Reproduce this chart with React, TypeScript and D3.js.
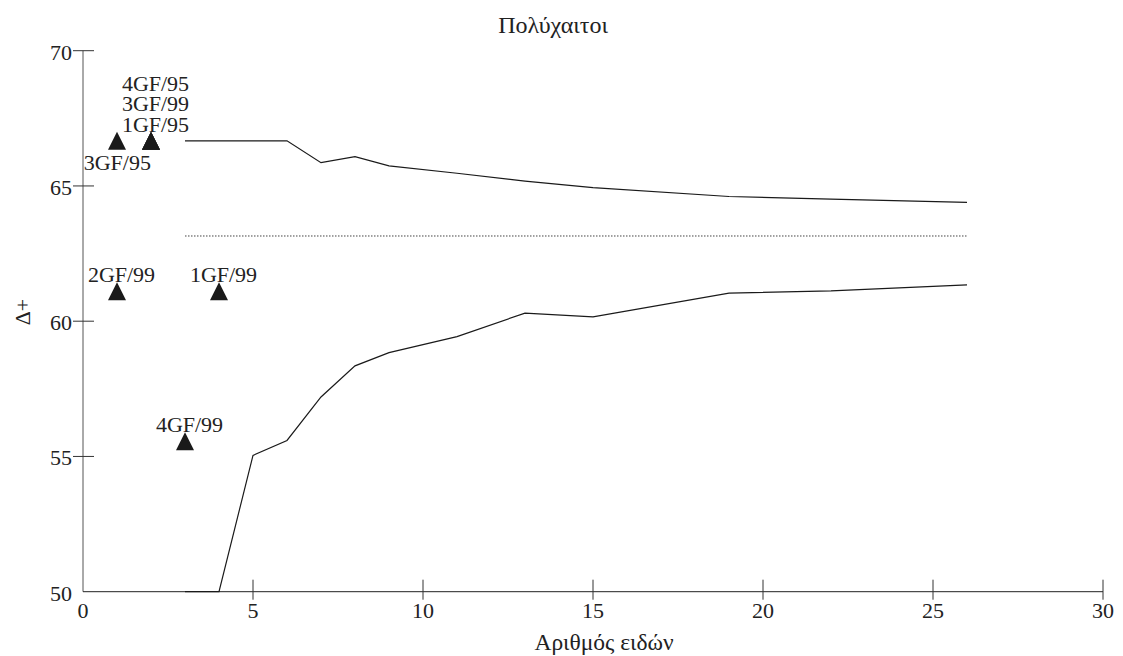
import React from "react";
import * as d3 from "d3";

// Δ+ simulation envelope (number of species vs. average taxonomic distinctness)
const speciesCounts = [3, 4, 5, 6, 7, 8, 9, 11, 13, 15, 19, 22, 26];
const upperLimit = [66.67, 66.67, 66.67, 66.67, 65.86, 66.08, 65.74, 65.47, 65.18, 64.94, 64.61, 64.51, 64.39];
const lowerLimit = [50.0, 50.0, 55.04, 55.59, 57.2, 58.35, 58.84, 59.43, 60.3, 60.16, 61.04, 61.12, 61.34];
const meanDelta = 63.15;

// Observed samples
const sampleNames = ["3GF/95", "1GF/95", "3GF/99", "4GF/95", "2GF/99", "1GF/99", "4GF/99"];
const sampleSpecies = [1, 2, 2, 2, 1, 4, 3];
const sampleDelta = [66.67, 66.67, 66.67, 66.67, 61.11, 61.11, 55.56];
const labelSide = ["below", "above", "above", "above", "above", "above", "above"];

const xTicks = [0, 5, 10, 15, 20, 25, 30];
const yTicks = [50, 55, 60, 65, 70];

const title = "Πολύχαιτοι";
const xTitle = "Αριθμός ειδών";
const yTitle = "Δ+";

const W = 1123;
const H = 656;
const FONT = "'Liberation Serif', 'Times New Roman', serif";

export default function App() {
  const x = d3.scaleLinear().domain([0, 30]).range([83, 1103]);
  const y = d3.scaleLinear().domain([50, 70]).range([591.7, 50.7]);

  const envelope = speciesCounts.map((s, i) => ({ s, hi: upperLimit[i], lo: lowerLimit[i] }));
  const upperPath = d3.line<any>().x((d) => x(d.s)).y((d) => y(d.hi))(envelope) || "";
  const lowerPath = d3.line<any>().x((d) => x(d.s)).y((d) => y(d.lo))(envelope) || "";
  const meanPath =
    d3.line<number>().x((s) => x(s)).y(() => y(meanDelta))([
      speciesCounts[0],
      speciesCounts[speciesCounts.length - 1],
    ]) || "";

  const tri = (cx: number, cy: number) => {
    const p = d3.path();
    p.moveTo(cx, cy - 9);
    p.lineTo(cx + 9, cy + 9);
    p.lineTo(cx - 9, cy + 9);
    p.closePath();
    return p.toString();
  };

  // stack labels that share the same point
  const stackCount: Record<string, number> = {};
  const labels = sampleNames.map((name, i) => {
    const px = x(sampleSpecies[i]);
    const py = y(sampleDelta[i]);
    if (labelSide[i] === "below") {
      return { name, lx: px + 0.3, ly: py + 29 };
    }
    const key = `${sampleSpecies[i]}_${sampleDelta[i]}`;
    const k = stackCount[key] || 0;
    stackCount[key] = k + 1;
    return { name, lx: px + 4.5, ly: py - 9.2 - k * 20.4 };
  });

  const axisY = y(50);
  const axisX = x(0);

  return (
    <svg
      width={W}
      height={H}
      style={{ position: "absolute", left: 0, top: 0, background: "#fff" }}
      fontFamily={FONT}
    >
      <rect x={0} y={0} width={W} height={H} fill="#fff" />

      {/* title */}
      <text x={553} y={33} fontSize={24} textAnchor="middle" fill="#222">
        {title}
      </text>

      {/* y axis */}
      <line x1={axisX} x2={axisX} y1={y(70)} y2={axisY} stroke="#555" strokeWidth={1} />
      {yTicks.map((t) => (
        <g key={"y" + t}>
          {t !== 50 && (
            <line x1={axisX - 10} x2={axisX + 11} y1={y(t)} y2={y(t)} stroke="#333" strokeWidth={1} />
          )}
          <text x={72} y={y(t) + 9} fontSize={22} textAnchor="end" fill="#222">
            {t}
          </text>
        </g>
      ))}

      {/* x axis */}
      <line x1={axisX} x2={x(30)} y1={axisY} y2={axisY} stroke="#222" strokeWidth={1} />
      {xTicks.map((t) => (
        <g key={"x" + t}>
          {t !== 0 && (
            <line x1={x(t)} x2={x(t)} y1={axisY - 12} y2={axisY + 8} stroke="#333" strokeWidth={1} />
          )}
          <text x={x(t)} y={axisY + 26} fontSize={22} textAnchor="middle" fill="#222">
            {t}
          </text>
        </g>
      ))}

      <text x={604} y={650} fontSize={23.5} textAnchor="middle" fill="#222">
        {xTitle}
      </text>
      <text
        transform={`translate(30,312) rotate(-90)`}
        fontSize={22}
        textAnchor="middle"
        fill="#222"
      >
        {yTitle}
      </text>

      {/* envelope */}
      <path d={upperPath} fill="none" stroke="#1a1a1a" strokeWidth={1.2} />
      <path d={lowerPath} fill="none" stroke="#1a1a1a" strokeWidth={1.2} />
      <path d={meanPath} fill="none" stroke="#444" strokeWidth={1} strokeDasharray="1.5 1.5" />

      {/* samples */}
      {sampleNames.map((n, i) => (
        <path key={"p" + n} d={tri(x(sampleSpecies[i]), y(sampleDelta[i]))} fill="#1a1a1a" />
      ))}
      {labels.map((l) => (
        <text key={"l" + l.name} x={l.lx} y={l.ly} fontSize={22} textAnchor="middle" fill="#222">
          {l.name}
        </text>
      ))}
    </svg>
  );
}
